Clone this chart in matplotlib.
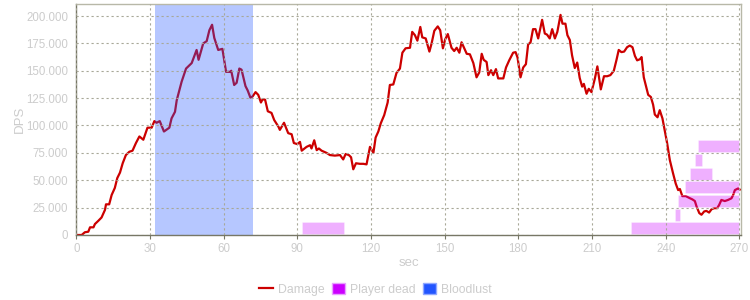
import matplotlib
matplotlib.use('Agg')
from matplotlib import pyplot as plt
from matplotlib.ticker import FuncFormatter
from matplotlib.lines import Line2D
from matplotlib.patches import Patch

# damage over time (sec, dps in thousands)
sec = [0, 2.2, 3.5, 4.9, 5.6, 7, 7.6, 9, 10.3, 11.7, 12.1, 13.4, 14.4, 15.7, 16.7, 17.8, 18.9,
       20.2, 21.6, 22.9, 24.3, 25.7, 27.3, 29, 30.7, 31.8, 32.7, 34, 35.7, 37.9, 38.8, 40.2,
       40.9, 42.9, 44.7, 47, 49, 49.8, 51.7, 53.1, 54.2, 55.3, 56.2, 57.8, 59.5, 61, 62.6,
       63.1, 64.3, 65.3, 66.4, 67.3, 68.9, 69.8, 70.9, 71.8, 73, 74.1, 75.2, 75.9, 76.9, 78,
       79.5, 80.6, 82.3, 82.9, 84.6, 86.3, 87.7, 88.6, 90, 91.1, 91.8, 93.8, 95.2, 95.8, 96.9,
       97.9, 98.8, 99.9, 101.9, 103.3, 105.3, 107.4, 108.7, 109.7, 111, 111.9, 112.8, 113.9,
       115.5, 116.9, 118.2, 119.6, 121, 121.9, 123, 124, 125.4, 126.8, 127.7, 129.1, 130.4,
       131.8, 132.8, 134.1, 135.9, 136.8, 137.9, 138.9, 140.1, 140.9, 142.3, 143.8, 144.7,
       145.8, 147.2, 148.2, 149.3, 150.2, 151.3, 152.8, 153.9, 154.9, 156, 156.9, 158.3, 159,
       160.3, 161.7, 163, 164.1, 165.1, 165.9, 167.1, 167.8, 168.9, 169.8, 170.9, 171.8,
       173.9, 175, 176.3, 177.9, 178.9, 179.7, 180.9, 182, 183.1, 184, 185, 186, 187, 188.1,
       189.7, 190.8, 191.7, 192.8, 193.8, 194.9, 195.9, 197.2, 198, 199.2, 200, 201, 201.9,
       203, 204, 205, 206, 206.7, 207.8, 208.7, 209.8, 211.2, 212.2, 213.6, 214.9, 216.2,
       217.5, 218.9, 220, 220.9, 222, 223.1, 224.3, 225.4, 226.5, 227.5, 228.4, 229.5, 230.2,
       231.1, 232, 232.9, 234, 234.9, 235.6, 236.7, 237.6, 238.7, 239.6, 240.6, 241.7, 243,
       244.1, 245.1, 245.8, 246.8, 248.2, 249.5, 250.9, 251.9, 252.6, 253.7, 254.6, 255.7,
       256.6, 257.7, 258.7, 259.8, 261, 261.8, 262.7, 264.1, 265.4, 266.8, 267.5, 268.2,
       269.5, 270.2]
dps_k = [0, 0, 2.5, 3, 7, 7, 10, 13, 16, 23, 28, 28, 36.5, 43, 52, 57, 65.5,
         73, 76, 77, 84, 90, 87, 98, 98, 104, 102.5, 104, 94.5, 98, 106.5, 112.5,
         123, 140, 152, 157, 169, 160, 175, 177, 187, 192, 180, 169, 170, 149, 149,
         150, 137, 139, 152, 151, 136, 132, 125.5, 126.5, 130.5, 128, 121, 124, 123.5, 113,
         111.5, 105, 99, 96, 102.5, 93, 92, 84, 83, 85, 77, 80.5, 82, 79, 86.5,
         77.5, 79, 77, 75, 73, 72.5, 73, 69, 74, 73, 71, 60, 65.5,
         65, 65, 64.5, 80.5, 75, 89, 94.5, 102, 109.5, 121, 137, 137.5, 148,
         152, 166.5, 170.5, 171, 185.5, 182.5, 177.5, 190, 180.5, 179.5, 167.5, 175,
         186.5, 190.5, 187, 170.5, 178.5, 183.5, 171, 168, 171, 166.5, 176, 169, 165.5,
         165, 157, 144, 148.5, 165.5, 160, 158, 146, 150.5, 146, 151.5, 143,
         143, 153, 159.5, 166.5, 167, 162, 144, 153, 156, 174, 176, 188, 188, 179.5,
         196.5, 184, 183, 179.5, 188, 179.5, 185.5, 201, 193, 193, 182.5, 178, 164,
         152.5, 157.5, 143.5, 135.5, 138, 129, 133.5, 130.5, 143, 154, 133, 145, 145,
         146, 150, 160, 169, 167, 167.5, 171.5, 173, 171.5, 163.5, 159.5, 160.5, 162.5,
         144, 136, 128, 126, 119, 110, 107.5, 114, 106.5, 96, 84, 68.5, 56.5,
         47, 41, 42, 35.5, 35.5, 34, 32.5, 31, 26, 20, 18.5, 21.5,
         22, 20.5, 23.5, 24.5, 24.5, 27.5, 32, 31, 32, 33.5, 36.5, 41,
         42.5, 41.5]
dps = [v * 1000 for v in dps_k]

# player dead periods, each on its own row
dead_start = [92, 226, 244, 245, 248, 250, 252, 253]
dead_end = [109, 270, 246, 270, 270, 259, 255, 270]
dead_row = [0, 0, 1, 2, 3, 4, 5, 6]

# bloodlust window
lust_start = 32
lust_end = 72

xticks = list(range(0, 271, 30))
yticks = list(range(0, 200001, 25000))

# colours
line_col = '#cc0000'
dead_col = '#cc00ff'
lust_col = '#2255ff'
text_col = '#cccccc'
grid_col = '#a8a898'

plt.rcParams['font.family'] = ['Liberation Sans', 'DejaVu Sans']

fig = plt.figure(figsize=(7.5, 3), dpi=100)
ax = fig.add_axes([0.1017, 0.2167, 0.886, 0.769])

# line goes below the shaded areas so they tint it
ax.plot(sec, dps, color=line_col, lw=1.6, zorder=0.5)
ax.axvspan(lust_start, lust_end, color=lust_col, alpha=0.33, lw=0, zorder=1)
row_h = 12500
for s, e, r in zip(dead_start, dead_end, dead_row):
    ax.broken_barh([(s, e - s)], (r * row_h + 600, row_h - 1500),
                   facecolor=dead_col, alpha=0.31, edgecolor='white', lw=0.6, zorder=1)

ax.set_xlim(0, 270.6)
ax.set_ylim(0, 210700)
ax.set_xticks(xticks)
ax.set_yticks(yticks)
ax.yaxis.set_major_formatter(FuncFormatter(lambda v, p: f'{int(v):,}'.replace(',', '.')))

ax.grid(True, color=grid_col, ls=(0, (2, 2.5)), lw=0.8)
ax.set_axisbelow(False)
ax.tick_params(colors=text_col, labelsize=8.3, length=3, width=0.8, pad=2.5)
ax.tick_params(axis='x', color='#777766')
ax.tick_params(axis='y', length=0, pad=6)

for side in ['left', 'bottom']:
    ax.spines[side].set_color('#777766')
    ax.spines[side].set_linewidth(1.0)
for side in ['top', 'right']:
    ax.spines[side].set_color('#b8b8a8')
    ax.spines[side].set_linewidth(1.0)

ax.set_xlabel('sec', color=text_col, fontsize=9.5, labelpad=2)
ax.set_ylabel('DPS', color=text_col, fontsize=9.5, labelpad=0)

handles = [Line2D([0], [0], color=line_col, lw=1.6),
           Patch(facecolor=dead_col, edgecolor='#e8a0ff'),
           Patch(facecolor=lust_col, edgecolor='#90a8ff')]
fig.legend(handles, ['Damage', 'Player dead', 'Bloodlust'], loc='center',
           bbox_to_anchor=(0.5007, 0.036), ncol=3, frameon=False, fontsize=8.8,
           labelcolor=text_col, handlelength=1.1, handleheight=1.0,
           handletextpad=0.4, columnspacing=0.6)

fig.savefig('out.png', dpi=100)
